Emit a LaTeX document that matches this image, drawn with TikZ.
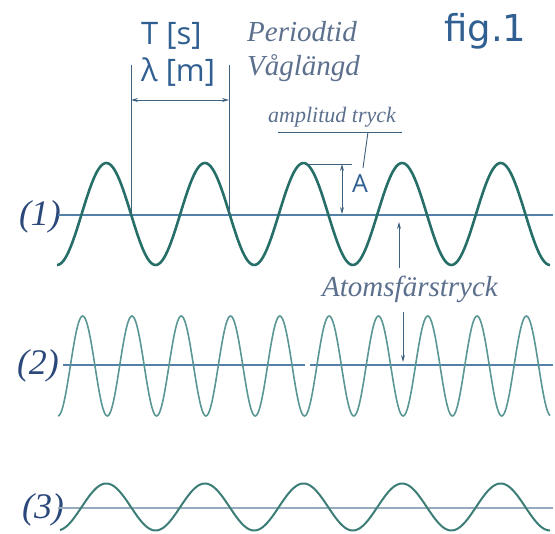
\documentclass[tikz,border=0pt]{standalone}
\usepackage{fontspec}
\setmainfont{Liberation Serif}
\newfontfamily\unitfont{Open Sans}
\newfontfamily\figfont{DejaVu Sans}
\usetikzlibrary{arrows.meta}
\definecolor{wavegreen}{RGB}{38,110,104}
\definecolor{wavelight}{RGB}{90,150,148}
\definecolor{axisblue}{RGB}{82,128,168}
\definecolor{axisgray}{RGB}{150,172,190}
\definecolor{textblue}{RGB}{48,95,145}
\definecolor{notegray}{RGB}{92,112,142}
\definecolor{numblue}{RGB}{42,72,122}
\tikzset{
  wave/.style={draw=wavegreen,line width=2.6pt},
  wavethin/.style={draw=wavelight,line width=1.6pt},
  wavelow/.style={draw=wavegreen!90!white,line width=2pt},
  axisln/.style={draw=axisblue,line width=1.4pt},
  dimln/.style={draw=axisblue!75!black,line width=0.9pt},
  dimarr/.style={{Stealth[length=7pt,width=4pt]}-{Stealth[length=7pt,width=4pt]},dimln},
  ptr/.style={-{Stealth[length=7pt,width=4pt]},dimln},
  unit/.style={font=\unitfont\fontsize{31}{31}\selectfont,text=textblue,inner sep=0pt},
  note/.style={font=\itshape\fontsize{29}{29}\selectfont,text=notegray,inner sep=0pt},
  num/.style={font=\itshape\fontsize{36}{36}\selectfont,text=numblue,inner sep=0pt},
}
\begin{document}
\begin{tikzpicture}[x=1pt,y=-1pt]
  \useasboundingbox (0,0) rectangle (555,534);
  \node[unit,anchor=base west] (per) at (141,45) {T [s]};
  \node[unit,anchor=base west] (lam) at (141,82) {λ [m]};
  \node[note,anchor=base west] (pertxt) at (247,42) {Periodtid};
  \node[note,anchor=base west] (lamtxt) at (247,76) {Våglängd};
  \node[font=\figfont\fontsize{37}{37}\selectfont,text=textblue,inner sep=0pt,anchor=base west] (fig) at (444,42) {fig.1};
  \node[note,font=\itshape\fontsize{22}{22}\selectfont,anchor=base west] (amptxt) at (268,123) {amplitud tryck};
  \node[unit,font=\unitfont\fontsize{25}{25}\selectfont,anchor=base west] (amp) at (352,193) {A};
  \node[note,font=\itshape\fontsize{29}{29}\selectfont,anchor=base west] (atm) at (322,297) {Atomsfärstryck};
  \node[num] (n1) at (40,217) {(1)};
  \node[num] (n2) at (38,366) {(2)};
  \node[num] (n3) at (43,510) {(3)};
  \draw[axisln] (58,215) -- (553,215);
  \draw[axisln] (63,365) -- (305,365);
  \draw[axisln] (310,365) -- (553,365);
  \draw[axisln,draw=axisgray] (58,508) -- (553,508);
  \draw[wave] plot[domain=57:550,samples=300] (\x,{214+51*cos(3.6511*(\x-57))});
  \draw[wavethin] plot[domain=58:550,samples=400] (\x,{366+50*cos(7.3022*(\x-58))});
  \draw[wavelow] plot[domain=60:550,samples=300] (\x,{507+23.5*cos(3.6511*(\x-57))});
  \coordinate (ltop) at (131,65);
  \coordinate (lbot) at (131,214);
  \coordinate (rtop) at (229,65);
  \coordinate (rbot) at (229,214);
  \coordinate (lmid) at (131,100);
  \coordinate (rmid) at (229,100);
  \draw[dimln] (ltop) -- (lbot);
  \draw[dimln] (rtop) -- (rbot);
  \draw[dimarr] (lmid) -- (rmid);
  \coordinate (ulleft) at (278,132);
  \coordinate (ulright) at (402,132);
  \coordinate (leadtop) at (368,132);
  \coordinate (lead) at (363,168);
  \draw[dimln] (ulleft) -- (ulright);
  \draw[dimln] (leadtop) -- (lead);
  \coordinate (crest) at (307,164);
  \coordinate (crestend) at (352,164);
  \coordinate (atop) at (342,164);
  \coordinate (abot) at (342,214);
  \draw[dimln] (crest) -- (crestend);
  \draw[dimarr] (atop) -- (abot);
  \coordinate (up0) at (399,268);
  \coordinate (up1) at (399,222);
  \coordinate (dn0) at (403,312);
  \coordinate (dn1) at (403,362);
  \draw[ptr] (up0) -- (up1);
  \draw[ptr] (dn0) -- (dn1);
\end{tikzpicture}
\end{document}
